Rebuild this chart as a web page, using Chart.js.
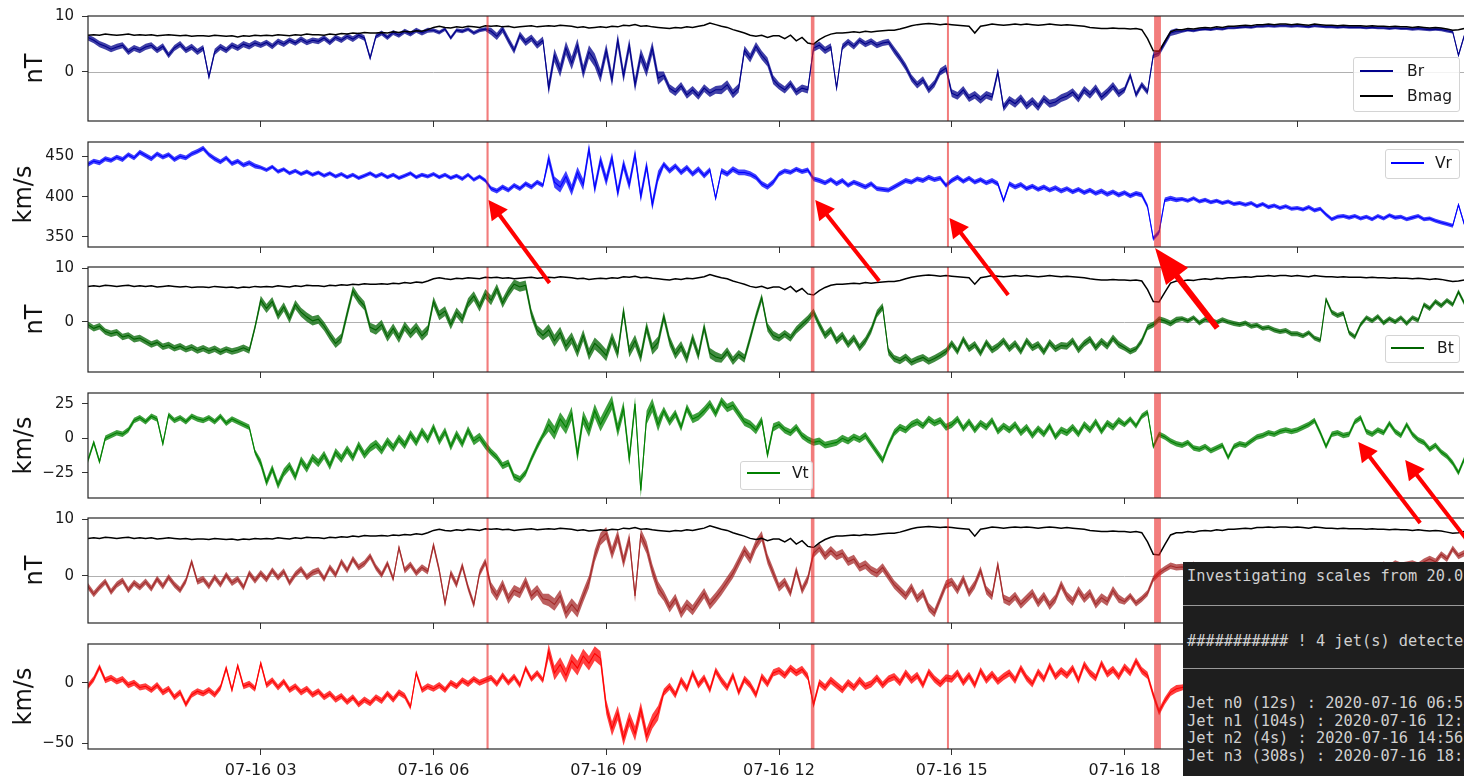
<!DOCTYPE html>
<html>
<head>
<meta charset="utf-8">
<title>Jet detection, 2020-07-16</title>
<script src="https://cdn.jsdelivr.net/npm/chart.js@4.4.1/dist/chart.umd.min.js"></script>
<style>
  html, body { margin: 0; padding: 0; background: #fff; overflow: hidden; }
  #figure { position: relative; width: 1464px; height: 776px; overflow: hidden; background: #fff; }
  #figure canvas.panel { position: absolute; left: 0; z-index: 1; }
  #arrows { position: absolute; left: 0; top: 0; z-index: 3; pointer-events: none; }
  .legend { position: absolute; z-index: 2; box-sizing: border-box; background: rgba(255,255,255,0.85);
            border: 1px solid #d4d4d4; border-radius: 3px; font-family: 'DejaVu Sans', sans-serif;
            font-size: 15.5px; color: #1a1a1a; }
  .legend .swatch { position: absolute; height: 1.2px; width: 33px; }
  .legend .name { position: absolute; line-height: 18px; white-space: nowrap; }
  #terminal { position: absolute; z-index: 4; left: 1183px; top: 562px; width: 300px; height: 214px;
              background: #1e1e1e; color: #d0d0d0; font-family: 'DejaVu Sans Mono', monospace;
              font-size: 15.3px; overflow: hidden; }
  #terminal .line { position: absolute; left: 4px; line-height: 18px; white-space: pre; }
  #terminal .rule { position: absolute; left: 0; right: 0; height: 1px; background: #9a9a9a; }
</style>
</head>
<body>
<div id="figure">
  <canvas id="arrows" width="1464" height="776"></canvas>
  <div id="terminal"></div>
</div>
<script>
// ---- time base: one sample every 6 minutes from 00:00 on 2020-07-16 ----
const SAMPLE_MINUTES = 6;
const HOUR_TICKS = [3, 6, 9, 12, 15, 18, 21];
const DAY_LABEL = '07-16';
const DATE_LABEL = '2020-07-16';

// ---- magnetic field components (nT) ----
const BR = [
  6.2,5.7,5.0,4.6,4.1,4.5,4.8,3.6,4.3,3.9,
  4.5,4.8,3.9,4.6,3.0,4.3,5.0,3.9,4.5,3.6,
  4.3,-0.9,3.6,4.5,3.9,4.8,4.3,5.0,4.6,5.2,
  4.8,5.3,4.6,5.5,5.0,5.7,5.2,5.9,5.3,5.7,
  5.5,6.1,5.3,6.2,5.7,6.4,5.9,6.6,6.1,2.5,
  6.4,7.0,6.2,7.1,6.6,7.3,6.8,7.5,7.0,7.5,
  7.5,7.1,7.7,6.1,7.5,7.3,7.7,7.0,7.5,7.7,
  7.3,6.4,7.7,5.7,3.9,6.6,5.3,6.1,4.8,5.7,
  -2.9,3.0,0.3,4.3,1.6,4.8,0.0,3.6,2.1,-0.7,
  3.9,-1.4,5.7,-0.7,4.8,-2.3,3.0,0.3,4.3,-1.1,
  -0.6,-2.9,-3.6,-2.5,-4.1,-3.2,-4.3,-2.9,-3.8,-3.2,
  -3.2,-2.3,-3.9,-2.9,3.9,2.5,4.6,3.0,1.8,-1.4,
  -2.5,-3.2,-2.1,-3.6,-2.9,-3.2,4.3,4.8,3.9,4.5,
  -2.9,4.5,5.4,4.6,5.7,5.0,5.5,4.8,5.2,5.4,
  3.9,2.5,0.9,-1.1,-2.3,-1.4,-3.2,-2.1,0.0,0.7,
  -3.8,-4.3,-3.2,-4.7,-4.1,-5.0,-4.1,-4.5,0.0,-6.4,
  -5.0,-5.7,-4.7,-6.1,-5.2,-6.3,-4.8,-5.7,-5.4,-4.7,
  -4.3,-3.6,-4.8,-3.2,-4.1,-2.9,-4.5,-3.6,-2.5,-3.9,
  -3.2,-0.6,-4.1,-2.3,-3.6,3.0,3.4,5.2,7.0,7.3,
  7.3,7.5,7.4,7.6,7.7,7.6,7.8,7.7,7.9,7.9,
  8.0,8.1,8.0,8.2,8.2,8.3,8.2,8.3,8.3,8.2,
  8.3,8.2,8.1,8.3,8.2,8.1,8.1,8.0,8.1,8.0,
  8.0,8.0,7.9,8.0,7.9,7.9,7.8,7.9,7.8,7.8,
  7.7,7.8,7.7,7.6,7.7,7.6,7.4,7.2,3.0,6.5
];
const BMAG = [
  6.6,6.7,6.6,6.8,6.7,6.6,6.7,6.8,6.6,6.7,
  6.6,6.7,6.5,6.6,6.7,6.6,6.5,6.6,6.4,6.5,
  6.5,6.4,6.6,6.5,6.4,6.5,6.3,6.5,6.4,6.6,
  6.5,6.6,6.5,6.7,6.6,6.5,6.7,6.6,6.8,6.7,
  6.7,6.6,6.8,6.7,6.9,6.8,7.0,6.9,7.1,7.0,
  7.0,7.1,7.0,7.2,7.1,7.3,7.2,7.4,7.3,7.6,
  8.0,8.2,8.0,7.9,8.1,8.0,8.2,8.1,8.0,8.3,
  8.2,8.3,8.1,8.2,8.0,8.1,8.2,8.3,8.1,8.2,
  8.3,8.2,8.4,8.3,8.2,8.0,8.1,7.9,8.0,8.1,
  8.0,8.2,8.1,8.4,8.3,8.5,8.2,8.3,8.1,8.0,
  7.9,7.8,8.0,7.9,8.1,8.0,8.2,8.4,8.8,8.5,
  8.2,8.0,7.6,7.3,7.0,6.6,6.4,6.6,6.2,6.5,
  6.5,6.0,6.6,5.6,6.2,5.2,5.0,5.8,6.4,6.8,
  7.0,7.0,7.1,7.2,7.1,7.3,7.2,7.3,7.4,7.5,
  7.5,7.7,8.0,8.3,8.5,8.6,8.7,8.6,8.5,8.6,
  8.5,8.4,8.3,8.2,7.0,8.2,8.4,8.6,8.5,8.4,
  8.5,8.6,8.5,8.6,8.5,8.4,8.5,8.6,8.5,8.4,
  8.5,8.4,8.3,8.2,8.0,7.9,7.8,7.8,7.9,7.8,
  7.8,7.7,7.8,7.6,6.0,3.8,3.7,5.5,7.2,7.6,
  7.6,7.8,7.7,7.9,8.0,7.9,8.1,8.0,8.2,8.2,
  8.3,8.4,8.3,8.5,8.5,8.6,8.5,8.6,8.6,8.5,
  8.6,8.5,8.4,8.6,8.5,8.4,8.4,8.3,8.4,8.3,
  8.3,8.3,8.2,8.3,8.2,8.2,8.1,8.2,8.1,8.1,
  8.0,8.1,8.0,7.9,8.0,7.9,7.7,7.5,7.6,7.8
];
const BT = [
  -0.5,-1.2,-0.8,-1.8,-2.2,-1.9,-2.8,-2.5,-3.2,-3.0,
  -3.6,-4.2,-3.8,-4.6,-4.3,-4.9,-4.5,-5.1,-4.7,-5.3,
  -4.9,-5.4,-5.0,-5.6,-5.1,-5.5,-5.2,-4.8,-5.3,-1.0,
  4.0,2.5,3.8,1.2,2.8,0.6,3.2,1.8,0.9,0.2,
  0.5,-0.8,-2.5,-4.0,-3.0,1.5,5.8,4.2,3.0,-1.0,
  -1.5,-0.5,-2.8,-1.2,-3.0,-0.8,-2.2,-1.0,-2.6,-1.5,
  3.8,1.2,2.0,-0.5,1.8,0.5,3.5,4.8,2.8,5.2,
  4.0,6.2,3.5,5.5,7.0,6.5,6.8,1.5,-1.5,-2.5,
  -1.5,-3.5,-2.0,-4.5,-3.0,-5.5,-2.5,-6.0,-4.0,-5.0,
  -6.2,-3.0,-5.8,2.0,-5.5,-3.5,-6.5,-1.0,-5.0,-3.8,
  1.0,-3.5,-6.0,-4.5,-6.8,-3.0,-6.2,-1.0,-5.8,-6.5,
  -6.8,-5.5,-7.2,-6.0,-6.8,-3.0,1.0,4.5,-1.0,-2.5,
  -3.0,-2.2,-3.0,-1.5,-0.5,0.5,1.8,-0.5,-2.5,-1.5,
  -3.5,-2.5,-4.2,-3.0,-4.8,-3.5,-1.5,1.5,2.8,-5.5,
  -6.8,-7.2,-6.5,-7.5,-7.0,-6.6,-7.3,-6.8,-6.2,-5.5,
  -4.0,-5.5,-3.2,-5.0,-4.2,-5.8,-3.8,-5.2,-4.5,-3.5,
  -5.0,-4.0,-5.5,-3.5,-4.8,-4.2,-5.6,-3.8,-5.0,-4.4,
  -4.5,-3.5,-5.2,-4.0,-3.2,-4.8,-3.6,-4.5,-3.0,-4.2,
  -4.8,-5.5,-5.0,-3.5,-1.0,-0.5,0.5,0.2,-0.3,0.4,
  0.6,0.2,0.8,-0.2,0.5,0.3,-0.1,0.4,0.0,-0.3,
  -0.5,-0.2,-0.8,-0.6,-1.2,-1.0,-1.5,-1.8,-1.6,-2.2,
  -2.2,-2.6,-2.0,-3.0,-3.4,4.2,1.8,1.2,1.6,-2.0,
  -2.8,-0.5,0.8,0.2,1.0,-0.2,0.6,0.0,0.8,-0.3,
  0.8,0.3,3.2,2.5,3.8,3.0,4.0,3.2,5.6,3.5
];
const BN = [
  -1.8,-3.2,-2.0,-1.0,-2.8,-1.5,-0.8,-2.5,-1.2,-2.0,
  -1.0,-2.2,-0.5,-1.8,-0.2,-1.5,-2.5,-0.8,2.5,-1.0,
  -0.5,-1.8,-0.2,-1.5,0.2,-1.2,-0.5,-2.0,0.5,-0.8,
  0.5,-0.6,1.0,-0.3,0.8,-1.2,0.3,1.2,-0.2,0.6,
  1.0,-0.5,1.5,0.2,2.5,1.0,3.0,1.5,2.2,3.5,
  1.5,0.2,2.2,-0.5,5.0,1.0,2.0,0.5,1.5,0.8,
  5.4,1.0,-4.8,0.5,-1.5,1.8,-2.0,-5.0,0.5,2.5,
  -2.0,-3.5,-1.5,-4.0,-2.5,-3.0,-1.0,-3.5,-2.5,-4.0,
  -4.2,-5.0,-3.5,-6.5,-5.0,-6.2,-3.5,-1.0,3.5,6.5,
  7.5,4.0,7.0,2.5,6.5,-3.5,7.2,5.0,1.0,-2.0,
  -3.5,-5.5,-4.0,-6.5,-5.0,-6.0,-4.5,-3.0,-5.0,-3.8,
  -2.5,-1.0,0.5,2.5,4.5,3.0,5.5,7.0,3.0,0.5,
  -2.0,-1.0,-3.0,1.0,-2.5,-0.5,4.0,5.0,3.5,4.5,
  3.5,4.0,2.5,3.0,1.5,2.0,1.0,0.5,1.5,0.0,
  -1.5,-2.5,-3.5,-2.0,-4.0,-3.0,-5.5,-6.5,-4.0,-1.5,
  -1.0,-2.5,-0.5,-3.0,-1.5,1.0,-2.5,-3.5,2.0,-4.0,
  -4.5,-3.5,-5.0,-4.0,-3.0,-4.8,-3.5,-5.2,-4.0,-1.5,
  -3.5,-4.5,-2.5,-4.0,-3.0,-5.0,-3.8,-4.5,-2.5,-4.0,
  -4.5,-3.5,-4.8,-4.0,-3.0,-0.5,0.5,1.2,1.8,1.5,
  1.6,1.2,2.0,0.8,1.5,0.5,1.0,0.2,0.8,0.4,
  0.0,0.5,-0.5,0.3,-0.8,0.2,-0.4,0.6,-0.2,0.4,
  0.2,-0.3,0.5,0.0,-0.5,0.8,0.3,1.0,0.5,1.2,
  0.8,1.5,1.0,1.8,1.2,2.0,1.5,2.2,1.8,2.0,
  2.2,1.8,2.5,3.0,2.5,3.8,3.0,4.8,3.5,4.0
];

// ---- velocity components (km/s) ----
const VR = [
  440,444,442,447,445,449,446,452,448,455,
  451,447,453,449,452,446,450,448,453,456,
  460,452,447,443,448,441,444,439,442,438,
  436,433,437,431,434,429,432,428,431,427,
  430,426,429,425,428,424,427,423,426,429,
  425,428,424,427,423,426,429,424,427,425,
  428,424,427,423,426,422,427,421,425,420,
  410,407,412,408,414,410,416,412,418,414,
  447,418,412,425,408,430,415,459,410,445,
  420,448,405,440,415,452,400,438,390,425,
  440,432,438,430,436,428,434,426,433,398,
  432,428,434,430,430,428,424,416,412,418,
  428,432,430,434,431,433,422,420,417,421,
  416,420,414,418,415,412,416,410,409,408,
  412,416,420,418,422,420,424,421,423,414,
  420,424,419,423,418,421,417,420,416,395,
  416,412,415,410,413,409,412,408,411,407,
  410,406,409,405,408,404,407,403,406,402,
  405,401,404,402,388,348,356,396,398,396,
  397,395,398,394,396,393,395,392,394,391,
  392,390,392,388,391,387,389,386,388,385,
  386,384,387,383,385,378,372,375,376,374,
  376,373,375,372,376,373,377,374,375,372,
  374,376,372,373,370,368,366,364,390,366
];
const VT = [
  -16,-3,-17,0,2,4,3,6,13,15,
  12,16,14,-4,17,13,15,12,16,14,
  13,15,12,16,11,14,12,10,8,-10,
  -18,-32,-22,-34,-25,-20,-28,-16,-22,-14,
  -18,-12,-20,-10,-15,-8,-14,-5,-12,-7,
  -4,-9,-2,-7,0,-5,3,-3,5,-1,
  8,-2,5,-6,3,-4,6,-2,1,-5,
  -10,-14,-20,-18,-28,-30,-25,-15,-6,2,
  10,4,14,8,18,-12,15,6,20,10,
  18,26,6,22,-15,25,-38,15,24,10,
  20,12,18,8,22,14,16,20,25,18,
  27,22,24,18,12,10,6,13,-12,8,
  10,6,4,8,2,-1,-3,-2,-5,-4,
  -3,0,-2,1,-1,2,-4,-10,-16,-5,
  4,8,6,10,12,9,14,11,13,8,
  10,14,7,12,6,11,8,13,5,9,
  6,10,4,8,2,7,3,9,1,6,
  4,8,3,10,6,12,5,11,8,13,
  10,14,9,16,19,-6,3,1,-2,-4,
  -5,-3,-7,-8,-6,-9,-7,-5,-14,-6,
  -4,-5,-2,1,2,4,3,5,6,5,
  6,8,10,13,4,-6,3,4,2,3,
  12,15,5,3,6,4,11,5,2,10,
  3,-1,-3,-8,-5,-10,-13,-18,-25,-15
];
const VN = [
  -3,3,13,2,4,1,3,-2,0,-4,
  -3,-6,-2,-8,-5,-12,-8,-18,-10,-7,
  -9,-6,-10,-4,12,-6,14,-3,-1,-5,
  16,-2,2,-4,1,-6,-3,-8,-5,-10,
  -7,-12,-9,-14,-11,-16,-12,-18,-14,-17,
  -12,-15,-9,-14,-8,-11,-20,8,-6,-3,
  -5,-2,-6,0,-3,2,-1,3,0,2,
  4,-1,6,0,5,-2,12,3,8,2,
  26,8,15,6,18,12,22,16,24,20,
  -20,-38,-25,-46,-30,-42,-22,-44,-32,-25,
  -8,-3,-10,2,-5,8,-2,4,-6,10,
  2,-4,6,-8,3,-2,-10,5,-1,8,
  10,6,12,8,11,5,-18,0,-4,2,
  -2,-6,0,-4,2,-3,-1,4,-2,3,
  5,0,8,2,6,-2,9,3,-1,4,
  3,8,0,6,-2,10,2,7,1,5,
  8,2,12,4,-1,9,3,14,5,10,
  6,12,2,15,8,4,16,7,11,5,
  13,8,18,10,6,-10,-24,-15,-8,-5,
  -4,-2,-5,0,-3,1,-2,2,-1,0,
  1,-2,3,0,2,-1,4,1,-1,2,
  3,0,5,2,-1,4,1,3,0,2,
  2,-1,3,1,4,0,2,-2,1,3,
  0,2,-1,3,1,-2,2,0,3,1
];

// ---- hourly fluctuation thickness of each trace (peak-to-peak, same units) ----
const BR_SPREAD = [1.1,1.1,1.1,1.0,1.0,0.9,0.7,1.3,2.4,2.4,1.4,1.6,1.3,1.1,1.3,1.4,1.4,1.4,1.1,0.5,0.5,0.5,0.5,0.6];
const VR_SPREAD = [6,6,6,5,5,5,5,6,14,14,7,7,6,6,6,6,6,6,6,5,5,5,5,5];
const BT_SPREAD = [1.2,1.2,1.2,1.7,1.7,1.8,1.8,1.8,2.2,2.2,1.9,1.6,1.4,1.4,1.3,1.3,1.3,1.3,1.1,0.9,0.9,0.9,0.9,0.9];
const VT_SPREAD = [4,4,4,6,6,6,6,5,10,10,6,6,5,5,5,5,5,5,4,4,4,4,4,4];
const BN_SPREAD = [1.1,1.1,1.1,1.1,1.1,1.1,1.3,1.8,2.2,2.2,1.8,1.8,1.5,1.5,1.5,1.5,1.5,1.5,1.1,1.1,1.1,1.1,1.1,1.1];
const VN_SPREAD = [5,5,5,5,5,5,5,5,12,12,6,6,6,6,6,6,6,6,6,5,5,5,5,5];

// ---- detected jets ----
const JET_NAMES = ['n0', 'n1', 'n2', 'n3'];
const JET_START = ['06:56:13', '12:34:12', '14:56:00', '18:31:50'];
const JET_SECONDS = [12, 104, 4, 308];
const JET_MARGIN_SECONDS = 60;
const SCALE_FROM = '20.0';

// ---- layout ----
const PLOT_LEFT = 88, PLOT_WIDTH = 1382, PLOT_HEIGHT = 105, PAD_TOP = 12;
const FONT = "'DejaVu Sans', sans-serif";
Chart.defaults.font.family = FONT;

const PANELS = [
  { top: 16,  title: 'nT',   titlePad: 21, min: -8.8,  max: 10.05, ticks: [0, 10], zero: true,
    lines: [{ label: 'Bmag', values: BMAG, color: '#000000', width: 1.5 },
            { label: 'Br', values: BR, spread: BR_SPREAD, color: '#00008b', width: 1.1 }] },
  { top: 142, title: 'km/s', titlePad: 10, min: 337.6, max: 467.7, ticks: [350, 400, 450], zero: false,
    lines: [{ label: 'Vr', values: VR, spread: VR_SPREAD, color: '#0000ff', width: 1.1 }] },
  { top: 267, title: 'nT',   titlePad: 21, min: -9.3,  max: 10.2,  ticks: [0, 10], zero: true,
    lines: [{ label: 'Bmag', values: BMAG, color: '#000000', width: 1.5 },
            { label: 'Bt', values: BT, spread: BT_SPREAD, color: '#006400', width: 1.1 }] },
  { top: 393, title: 'km/s', titlePad: 10, min: -43.4, max: 32.9,  ticks: [-25, 0, 25], zero: false,
    lines: [{ label: 'Vt', values: VT, spread: VT_SPREAD, color: '#008000', width: 1.1 }] },
  { top: 518, title: 'nT',   titlePad: 21, min: -8.25, max: 10.18, ticks: [0, 10], zero: true,
    lines: [{ label: 'Bmag', values: BMAG, color: '#000000', width: 1.5 },
            { label: 'Bn', values: BN, spread: BN_SPREAD, color: '#a52a2a', width: 1.1 }] },
  { top: 644, title: 'km/s', titlePad: 10, min: -54.7, max: 31.9,  ticks: [-50, 0], zero: false,
    lines: [{ label: 'Vn', values: VN, spread: VN_SPREAD, color: '#ff0000', width: 1.1 }] }
];

// legend boxes: which panel and which of its lines they list
const LEGENDS = [
  { panel: 0, names: ['Br', 'Bmag'], left: 1353, top: 57,  width: 107, height: 55, rows: [13, 38], swatch: 6, text: 53 },
  { panel: 1, names: ['Vr'],         left: 1385, top: 149, width: 75,  height: 30, rows: [13],     swatch: 5, text: 49 },
  { panel: 2, names: ['Bt'],         left: 1385, top: 335, width: 75,  height: 28, rows: [12],     swatch: 5, text: 51 },
  { panel: 3, names: ['Vt'],         left: 740,  top: 461, width: 73,  height: 29, rows: [11],     swatch: 6, text: 51 }
];

// annotation arrows: [panel, hour, value] for tail and tip
const ARROWS = [
  { from: [2, 8.015, 7.23],  to: [1, 6.955, 395.8],  width: 4, head: 19, half: 10 },
  { from: [2, 13.74, 7.6],   to: [1, 12.63, 395.8],  width: 4, head: 19, half: 10 },
  { from: [2, 15.98, 5.0],   to: [1, 14.96, 373.5],  width: 4, head: 19, half: 10 },
  { from: [2, 19.61, -1.13], to: [1, 18.53, 336.4],  width: 6, head: 36, half: 14 },
  { from: [4, 23.135, 9.3],  to: [3, 22.06, -2.7],   width: 4, head: 19, half: 10 },
  { from: [4, 23.95, 6.3],   to: [3, 22.875, -15.8], width: 4, head: 19, half: 10 }
];

// ---- helpers ----
const hourOf = i => i * SAMPLE_MINUTES / 60;
const toPoints = values => values.map((v, i) => ({ x: hourOf(i), y: v }));
const bandEdge = (values, spread, side) =>
  values.map((v, i) => ({ x: hourOf(i), y: v + side * spread[Math.floor(hourOf(i))] / 2 }));
const clockHours = s => { const [h, m, sec] = s.split(':').map(Number); return h + m / 60 + sec / 3600; };
const signed = v => (v < 0 ? '\u2212' + Math.abs(v) : String(v));
const withAlpha = (hex, a) => {
  const n = parseInt(hex.slice(1), 16);
  return `rgba(${(n >> 16) & 255}, ${(n >> 8) & 255}, ${n & 255}, ${a})`;
};

const decorPlugin = {
  id: 'panelDecor',
  beforeDatasetsDraw(chart, args, opts) {
    if (!opts.zero) return;
    const { ctx, chartArea: a, scales: { y } } = chart;
    const py = Math.round(y.getPixelForValue(0)) + 0.5;
    ctx.save();
    ctx.strokeStyle = '#b0b0b0';
    ctx.lineWidth = 1;
    ctx.beginPath(); ctx.moveTo(a.left, py); ctx.lineTo(a.right, py); ctx.stroke();
    ctx.restore();
  },
  afterDatasetsDraw(chart) {
    const { ctx, chartArea: a, scales: { x } } = chart;
    ctx.save();
    ctx.fillStyle = 'rgba(232, 30, 30, 0.58)';
    JET_START.forEach((s, i) => {
      const t0 = clockHours(s) - JET_MARGIN_SECONDS / 3600;
      const t1 = clockHours(s) + (JET_SECONDS[i] + JET_MARGIN_SECONDS) / 3600;
      const x0 = x.getPixelForValue(t0), x1 = x.getPixelForValue(t1);
      ctx.fillRect(x0, a.top, x1 - x0, a.bottom - a.top);
    });
    ctx.restore();
  },
  afterDraw(chart) {
    const { ctx, chartArea: a } = chart;
    ctx.save();
    ctx.strokeStyle = '#262626';
    ctx.lineWidth = 1.2;
    ctx.strokeRect(a.left, a.top, a.right - a.left, a.bottom - a.top);
    ctx.restore();
  }
};

// ---- panels ----
const figure = document.getElementById('figure');
const charts = [];
const canvasTops = [];

PANELS.forEach((p, idx) => {
  const isBottom = idx === PANELS.length - 1;
  const axisHeight = isBottom ? 27 : 6;
  const cv = document.createElement('canvas');
  cv.className = 'panel';
  cv.width = PLOT_LEFT + PLOT_WIDTH;
  cv.height = PAD_TOP + PLOT_HEIGHT + axisHeight;
  cv.style.width = cv.width + 'px';
  cv.style.height = cv.height + 'px';
  cv.style.top = (p.top - PAD_TOP) + 'px';
  figure.appendChild(cv);
  canvasTops.push(p.top - PAD_TOP);

  // Bmag trace on top, component trace below it, fluctuation bands underneath
  const datasets = [];
  p.lines.forEach((l, k) => {
    datasets.push({
      label: l.label, data: toPoints(l.values), borderColor: l.color, borderWidth: l.width,
      pointRadius: 0, fill: false, tension: 0, order: k
    });
  });
  p.lines.filter(l => l.spread).forEach(l => {
    datasets.push({ label: l.label + ' low', data: bandEdge(l.values, l.spread, -1),
      borderWidth: 0, pointRadius: 0, fill: false, tension: 0, order: 5 });
    datasets.push({ label: l.label + ' high', data: bandEdge(l.values, l.spread, 1),
      borderWidth: 0, pointRadius: 0, fill: '-1', backgroundColor: withAlpha(l.color, 0.75),
      tension: 0, order: 5 });
  });

  charts.push(new Chart(cv.getContext('2d'), {
    type: 'line',
    data: { datasets },
    options: {
      responsive: false, maintainAspectRatio: false, animation: false, devicePixelRatio: 1, events: [],
      layout: { padding: { top: PAD_TOP, left: 0, right: 0, bottom: 0 } },
      plugins: { legend: { display: false }, tooltip: { enabled: false }, panelDecor: { zero: p.zero } },
      scales: {
        x: {
          type: 'linear', min: 0, max: 24,
          afterBuildTicks: s => { s.ticks = HOUR_TICKS.map(h => ({ value: h })); },
          afterFit: s => { s.height = axisHeight; s.paddingLeft = 0; s.paddingRight = 0; },
          ticks: {
            autoSkip: false, maxRotation: 0, padding: 6,
            color: isBottom ? '#1a1a1a' : 'rgba(0,0,0,0)', font: { size: 16 },
            callback: v => DAY_LABEL + ' ' + String(v).padStart(2, '0')
          },
          grid: { drawOnChartArea: false, drawTicks: true, tickLength: 6, color: '#333333', lineWidth: 1 },
          border: { display: false }
        },
        y: {
          min: p.min, max: p.max,
          afterBuildTicks: s => { s.ticks = p.ticks.map(v => ({ value: v })); },
          afterFit: s => { s.width = PLOT_LEFT; s.paddingTop = 0; s.paddingBottom = 0; },
          ticks: { padding: 8, color: '#1a1a1a', font: { size: 15 }, callback: signed },
          grid: { drawOnChartArea: false, drawTicks: true, tickLength: 6, color: '#333333', lineWidth: 1 },
          border: { display: false },
          title: { display: true, text: p.title, color: '#111111', font: { size: 24 },
                   padding: { top: p.titlePad, bottom: 0 } }
        }
      }
    },
    plugins: [decorPlugin]
  }));
});

// ---- legends ----
LEGENDS.forEach(L => {
  const box = document.createElement('div');
  box.className = 'legend';
  Object.assign(box.style, { left: L.left + 'px', top: L.top + 'px', width: L.width + 'px', height: L.height + 'px' });
  L.names.forEach((name, k) => {
    const line = PANELS[L.panel].lines.find(l => l.label === name);
    const sw = document.createElement('div');
    sw.className = 'swatch';
    sw.style.left = L.swatch + 'px';
    sw.style.top = (L.rows[k] - 0.6) + 'px';
    sw.style.background = line.color;
    const tx = document.createElement('div');
    tx.className = 'name';
    tx.style.left = L.text + 'px';
    tx.style.top = (L.rows[k] - 9) + 'px';
    tx.textContent = name;
    box.append(sw, tx);
  });
  figure.appendChild(box);
});

// ---- arrows ----
const actx = document.getElementById('arrows').getContext('2d');
const pagePoint = ([panel, t, v]) => {
  const c = charts[panel];
  return [c.scales.x.getPixelForValue(t), canvasTops[panel] + c.scales.y.getPixelForValue(v)];
};
ARROWS.forEach(a => {
  const [x0, y0] = pagePoint(a.from);
  const [x1, y1] = pagePoint(a.to);
  const len = Math.hypot(x1 - x0, y1 - y0);
  const ux = (x1 - x0) / len, uy = (y1 - y0) / len;
  const bx = x1 - ux * a.head, by = y1 - uy * a.head;
  actx.strokeStyle = '#ff0000';
  actx.fillStyle = '#ff0000';
  actx.lineWidth = a.width;
  actx.lineCap = 'butt';
  actx.beginPath(); actx.moveTo(x0, y0); actx.lineTo(bx + ux, by + uy); actx.stroke();
  actx.beginPath();
  actx.moveTo(x1, y1);
  actx.lineTo(bx - uy * a.half, by + ux * a.half);
  actx.lineTo(bx + uy * a.half, by - ux * a.half);
  actx.closePath();
  actx.fill();
});

// ---- console report ----
const term = document.getElementById('terminal');
const addLine = (text, top) => {
  const d = document.createElement('div');
  d.className = 'line'; d.style.top = top + 'px'; d.textContent = text;
  term.appendChild(d);
};
const addRule = top => {
  const d = document.createElement('div');
  d.className = 'rule'; d.style.top = top + 'px';
  term.appendChild(d);
};
addLine('Investigating scales from ' + SCALE_FROM, 5);
addRule(43);
addLine('#'.repeat(11) + ' ! ' + JET_NAMES.length + ' jet(s) detected', 70);
addRule(106);
JET_NAMES.forEach((n, i) => {
  addLine(`Jet ${n} (${JET_SECONDS[i]}s) : ${DATE_LABEL} ${JET_START[i]}`, 132 + i * 17.7);
});
</script>
</body>
</html>
